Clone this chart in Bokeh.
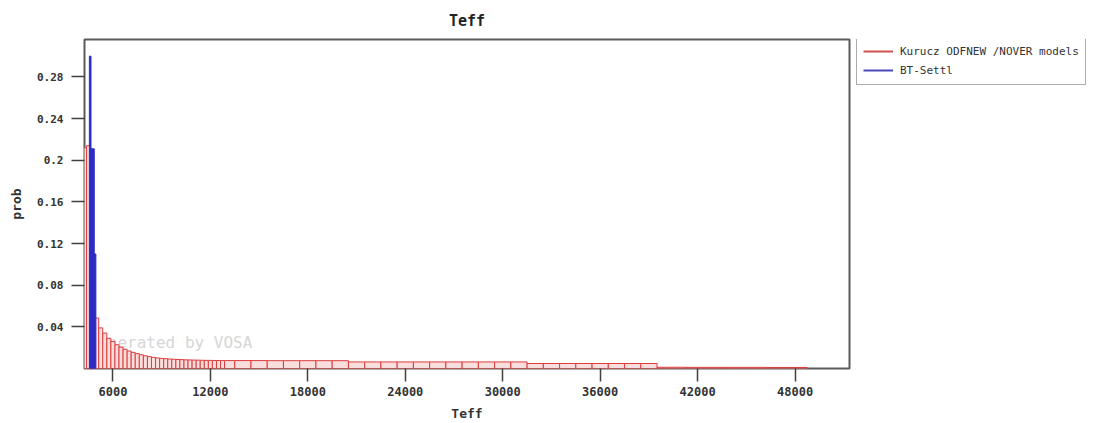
import numpy as np
from bokeh.plotting import figure
from bokeh.layouts import row
from bokeh.models import Range1d, FixedTicker, Legend, LegendItem, Label, ColumnDataSource
from bokeh.embed import file_html
from bokeh.resources import INLINE

# Kurucz ODFNEW/NOVER grid temperatures and their fit probabilities
kurucz_teff = [4250, 4500, 4750, 5000, 5250, 5500, 5750, 6000, 6250, 6500, 6750, 7000,
               7250, 7500, 7750, 8000, 8250, 8500, 8750, 9000, 9250, 9500, 9750, 10000,
               10250, 10500, 10750, 11000, 11250, 11500, 11750, 12000, 12250, 12500,
               12750, 13000,
               14000, 15000, 16000, 17000, 18000, 19000, 20000,
               21000, 22000, 23000, 24000, 25000, 26000, 27000, 28000, 29000, 30000, 31000,
               32000, 33000, 34000, 35000, 36000, 37000, 38000, 39000,
               40000, 42500, 45000, 47500]
kurucz_prob = [0.212, 0.214, 0.062, 0.0485, 0.0390, 0.0340, 0.0290, 0.0260, 0.0228, 0.0205,
               0.0185, 0.0168, 0.0155, 0.0143, 0.0132, 0.0122, 0.0114, 0.0107, 0.0101,
               0.0097, 0.0094, 0.0091, 0.0089, 0.0087, 0.0085, 0.0083, 0.0082, 0.0081,
               0.0080, 0.0079, 0.0078, 0.0078, 0.0077, 0.0077, 0.0076, 0.0076,
               0.0076, 0.0076, 0.0075, 0.0075, 0.0075, 0.0075, 0.0075,
               0.0063, 0.0063, 0.0063, 0.0063, 0.0063, 0.0063, 0.0063, 0.0063, 0.0063,
               0.0063, 0.0063,
               0.0048, 0.0048, 0.0048, 0.0048, 0.0048, 0.0048, 0.0048, 0.0048,
               0.0012, 0.0011, 0.0011, 0.0010]

# BT-Settl grid temperatures and their fit probabilities
settl_teff = [4600, 4700, 4800, 4900]
settl_prob = [0.300, 0.211, 0.211, 0.110]

series_names = ["Kurucz ODFNEW /NOVER models", "BT-Settl"]

x_ticks = [6000, 12000, 18000, 24000, 30000, 36000, 42000, 48000]
x_tick_labels = ["6000", "12000", "18000", "24000", "30000", "36000", "42000", "48000"]
y_ticks = [0.04, 0.08, 0.12, 0.16, 0.2, 0.24, 0.28]
y_tick_labels = ["0.04", "0.08", "0.12", "0.16", "0.2", "0.24", "0.28"]

MONO = "DejaVu Sans Mono"
RED = "#dc3c3c"
BLUE = "#2c2cc4"


def bin_edges(t):
    """Each grid point gets a bar reaching halfway to its neighbours."""
    t = np.asarray(t, dtype=float)
    mid = (t[:-1] + t[1:]) / 2
    left = np.concatenate([[t[0] - (t[1] - t[0]) / 2], mid])
    right = np.concatenate([mid, [t[-1] + (t[-1] - t[-2]) / 2]])
    return left, right


kl, kr = bin_edges(kurucz_teff)
sl, sr = bin_edges(settl_teff)
kurucz_src = ColumnDataSource(dict(left=kl, right=kr, top=kurucz_prob, bottom=np.zeros(len(kl))))
settl_src = ColumnDataSource(dict(left=sl, right=sr, top=settl_prob, bottom=np.zeros(len(sl))))

# ---- main histogram ----
p = figure(width=851, height=423, output_backend="svg", toolbar_location=None,
           x_range=Range1d(4250, 51350), y_range=Range1d(0, 0.316),
           min_border_left=84, min_border_right=2, min_border_top=39, min_border_bottom=54,
           title="Teff")
p.background_fill_color = "white"
p.border_fill_color = "white"
p.outline_line_color = "#5a5a5a"
p.outline_line_width = 2
p.grid.visible = False

p.title.align = "center"
p.title.text_font = MONO
p.title.text_font_size = "15px"
p.title.text_font_style = "bold"
p.title.text_color = "#222222"
p.title.standoff = 19

# faint watermark under the bars
wm = Label(x=4500, y=0.0163, text="Generated by VOSA", text_font=MONO, text_font_size="16px",
           text_color="#d6d6d6", level="underlay")
p.add_layout(wm)

p.quad(left="left", right="right", top="top", bottom="bottom", source=kurucz_src,
       fill_color="#fadede", line_color=RED, line_width=1)
p.quad(left="left", right="right", top="top", bottom="bottom", source=settl_src,
       fill_color=BLUE, line_color=BLUE, line_width=1)

for ax in (p.xaxis[0], p.yaxis[0]):
    ax.axis_line_color = None
    ax.major_tick_line_color = "#404040"
    ax.major_tick_line_width = 1.5
    ax.major_tick_out = 13
    ax.major_tick_in = 0
    ax.minor_tick_line_color = None
    ax.major_label_text_font = MONO
    ax.major_label_text_font_style = "bold"
    ax.major_label_text_color = "#333333"
    ax.axis_label_text_font = MONO
    ax.axis_label_text_font_size = "13px"
    ax.axis_label_text_font_style = "bold"
    ax.axis_label_text_color = "#333333"

p.xaxis.ticker = FixedTicker(ticks=x_ticks)
p.xaxis.major_label_overrides = dict(zip(x_ticks, x_tick_labels))
p.xaxis.major_label_text_font_size = "12px"
p.xaxis.major_label_standoff = 5
p.xaxis.axis_label = "Teff"
p.xaxis.axis_label_standoff = 7

p.yaxis.ticker = FixedTicker(ticks=y_ticks)
p.yaxis.major_label_overrides = dict(zip(y_ticks, y_tick_labels))
p.yaxis.major_label_text_font_size = "11px"
p.yaxis.major_label_standoff = 8
p.yaxis.axis_label = "prob"
p.yaxis.axis_label_standoff = 10

# ---- legend panel to the right of the plot (its frame lines up with the plot's) ----
lp = figure(width=248, height=423, output_backend="svg", toolbar_location=None,
            x_range=Range1d(0, 1), y_range=Range1d(0, 1),
            x_axis_location=None, y_axis_location=None, min_border=0)
lp.grid.visible = False
lp.outline_line_color = None
lp.background_fill_color = "white"
lp.border_fill_color = "white"

# key lines hold a single NaN point, so only their legend entries are drawn
key_src = ColumnDataSource(dict(x=[np.nan], y=[np.nan]))
k_key = lp.line(x="x", y="y", source=key_src, line_color="#d05050", line_width=2)
s_key = lp.line(x="x", y="y", source=key_src, line_color="#4848b8", line_width=2)
legend = Legend(items=[LegendItem(label=series_names[0], renderers=[k_key]),
                       LegendItem(label=series_names[1], renderers=[s_key])],
                location=(5, 283), orientation="vertical",
                padding=6, spacing=3, margin=0,
                glyph_width=30, glyph_height=16, label_height=16, label_standoff=7,
                label_text_font=MONO, label_text_font_size="11px", label_text_color="#333333",
                border_line_color="#5a5a5a", border_line_width=1.5,
                background_fill_color="white", background_fill_alpha=1.0)
lp.add_layout(legend, "center")

layout = row(p, lp, spacing=0)
open("out.html", "w").write(file_html(layout, INLINE))
